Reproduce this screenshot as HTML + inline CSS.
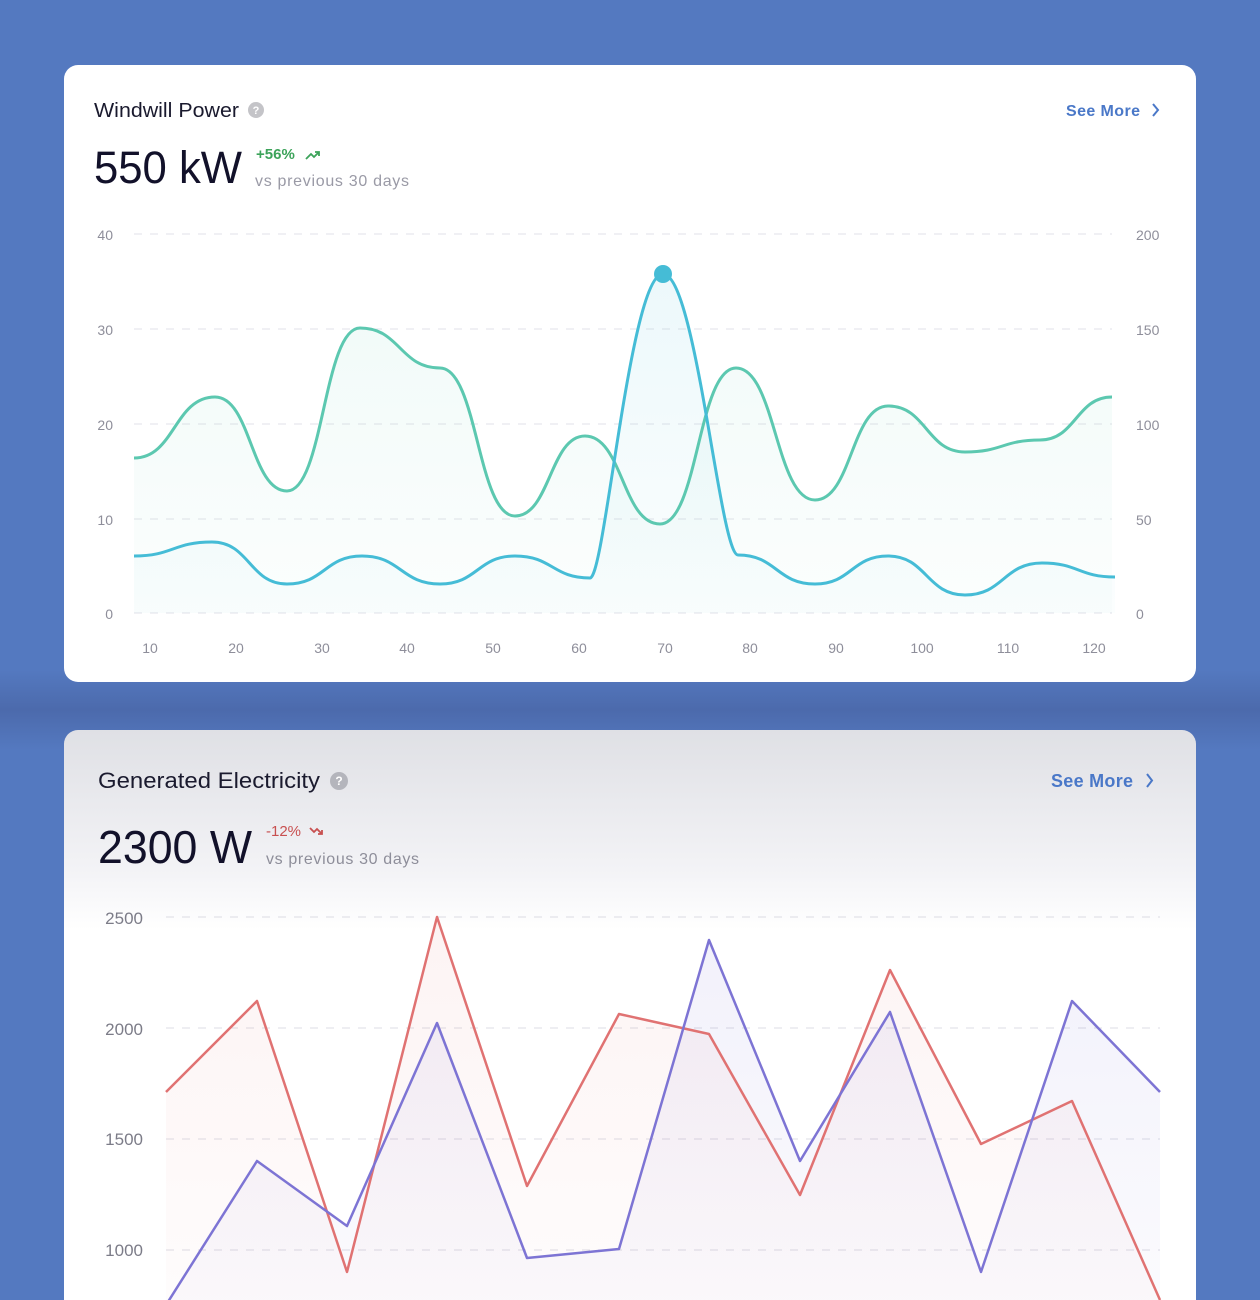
<!DOCTYPE html>
<html style="height:1300px;overflow:hidden"><head><style>
body{margin:0;width:1260px;height:1300px;overflow:hidden;background:#5479c0;font-family:"Liberation Sans",sans-serif;position:relative}
.band{position:absolute;left:0;top:670px;width:1260px;height:80px;background:linear-gradient(#5479c0,#4c6aac 50%,#5479c0)}
.card{position:absolute;left:64px;width:1132px;background:#fff;border-radius:14px;overflow:hidden}
svg text{font-family:"Liberation Sans",sans-serif}
</style></head><body>
<div class="band"></div>
<div class="card" style="top:65px;height:617px"></div>
<div class="card" style="top:730px;height:570px;border-radius:14px 14px 0 0;background:linear-gradient(#dfe0e5,#f3f3f6 140px,#fff 200px)"></div>
<svg width="1260" height="1300" style="position:absolute;left:0;top:0">
<defs>
<linearGradient id="g1" x1="0" y1="0" x2="0" y2="1"><stop offset="0" stop-color="#5cc8b0" stop-opacity=".08"/><stop offset="1" stop-color="#5cc8b0" stop-opacity=".02"/></linearGradient>
<linearGradient id="g2" x1="0" y1="0" x2="0" y2="1"><stop offset="0" stop-color="#45bcd6" stop-opacity=".1"/><stop offset="1" stop-color="#45bcd6" stop-opacity=".02"/></linearGradient>
<linearGradient id="g3" x1="0" y1="0" x2="0" y2="1"><stop offset="0" stop-color="#e07070" stop-opacity=".08"/><stop offset="1" stop-color="#e07070" stop-opacity=".02"/></linearGradient>
<linearGradient id="g4" x1="0" y1="0" x2="0" y2="1"><stop offset="0" stop-color="#7d74d4" stop-opacity=".1"/><stop offset="1" stop-color="#7d74d4" stop-opacity=".03"/></linearGradient>
</defs>
<text x="94" y="117" font-size="20" fill="#1a1a2e" textLength="145" lengthAdjust="spacingAndGlyphs">Windwill Power</text>
<circle cx="256" cy="110" r="8" fill="#c4c4c8"/><text x="256" y="114" font-size="11" fill="#fff" text-anchor="middle" font-weight="bold">?</text>
<text x="1066" y="116" font-size="16" fill="#4a78c8" font-weight="bold" textLength="74">See More</text>
<path d="M1153 104 l5 6 -5 6" stroke="#4a78c8" stroke-width="2" fill="none"/>
<text x="94" y="183" font-size="45" fill="#12112a" textLength="148" lengthAdjust="spacingAndGlyphs">550 kW</text>
<text x="256" y="159" font-size="15" fill="#3ca35a" font-weight="bold">+56%</text>
<path d="M306 159 l5 -5 3 3 5 -5 M315 152 h4 v4" stroke="#3ca35a" stroke-width="1.8" fill="none"/>
<text x="255" y="186" font-size="16" fill="#9a9aa6" textLength="154">vs previous 30 days</text>
<g stroke="#e2e2e8" stroke-dasharray="8 8" stroke-width="1">
<line x1="134" y1="234" x2="1112" y2="234"/><line x1="134" y1="329" x2="1112" y2="329"/><line x1="134" y1="424" x2="1112" y2="424"/><line x1="134" y1="519" x2="1112" y2="519"/><line x1="134" y1="613" x2="1112" y2="613"/>
</g>
<g font-size="14" fill="#8e8e9a">
<text x="113" y="240" text-anchor="end">40</text><text x="113" y="335" text-anchor="end">30</text><text x="113" y="430" text-anchor="end">20</text><text x="113" y="525" text-anchor="end">10</text><text x="113" y="619" text-anchor="end">0</text>
<text x="1136" y="240">200</text><text x="1136" y="335">150</text><text x="1136" y="430">100</text><text x="1136" y="525">50</text><text x="1136" y="619">0</text>
<g text-anchor="middle"><text x="150" y="653">10</text><text x="236" y="653">20</text><text x="322" y="653">30</text><text x="407" y="653">40</text><text x="493" y="653">50</text><text x="579" y="653">60</text><text x="665" y="653">70</text><text x="750" y="653">80</text><text x="836" y="653">90</text><text x="922" y="653">100</text><text x="1008" y="653">110</text><text x="1094" y="653">120</text></g>
</g>
<path d="M134 458 C174.5 458 174.5 397 215 397 C251 397 251 491 287 491 C323.5 491 323.5 328 360 328 C400 328 400 368 440 368 C477.5 368 477.5 516 515 516 C550 516 550 436 585 436 C622.5 436 622.5 524 660 524 C698 524 698 368 736 368 C775.5 368 775.5 500 815 500 C851.5 500 851.5 406 888 406 C926.5 406 926.5 452 965 452 C1002.5 452 1002.5 440 1040 440 C1076 440 1076 397 1112 397 V613 H134Z" fill="url(#g1)"/>
<path d="M134 556 C173 556 173 542 212 542 C249.5 542 249.5 584 287 584 C324.5 584 324.5 556 362 556 C401 556 401 584 440 584 C477.5 584 477.5 556 515 556 C552.5 556 552.5 578 590 578 C605 578 630 274 663 274 C696 274 720 555 738 555 C776.5 555 776.5 584 815 584 C851.5 584 851.5 556 888 556 C926.5 556 926.5 595 965 595 C1003.5 595 1003.5 563 1042 563 C1078.5 563 1078.5 577 1115 577 V613 H134Z" fill="url(#g2)"/>
<path d="M134 458 C174.5 458 174.5 397 215 397 C251 397 251 491 287 491 C323.5 491 323.5 328 360 328 C400 328 400 368 440 368 C477.5 368 477.5 516 515 516 C550 516 550 436 585 436 C622.5 436 622.5 524 660 524 C698 524 698 368 736 368 C775.5 368 775.5 500 815 500 C851.5 500 851.5 406 888 406 C926.5 406 926.5 452 965 452 C1002.5 452 1002.5 440 1040 440 C1076 440 1076 397 1112 397" stroke="#5cc8b0" stroke-width="3" fill="none"/>
<path d="M134 556 C173 556 173 542 212 542 C249.5 542 249.5 584 287 584 C324.5 584 324.5 556 362 556 C401 556 401 584 440 584 C477.5 584 477.5 556 515 556 C552.5 556 552.5 578 590 578 C605 578 630 274 663 274 C696 274 720 555 738 555 C776.5 555 776.5 584 815 584 C851.5 584 851.5 556 888 556 C926.5 556 926.5 595 965 595 C1003.5 595 1003.5 563 1042 563 C1078.5 563 1078.5 577 1115 577" stroke="#45bcd6" stroke-width="3" fill="none"/>
<circle cx="663" cy="274" r="9" fill="#45bcd6"/>
<text x="98" y="788" font-size="22" fill="#1a1a2e" textLength="222" lengthAdjust="spacingAndGlyphs">Generated Electricity</text>
<circle cx="339" cy="781" r="9" fill="#b4b5bc"/><text x="339" y="785" font-size="12" fill="#fff" text-anchor="middle" font-weight="bold">?</text>
<text x="1051" y="787" font-size="18" fill="#4a78c8" font-weight="bold" textLength="82">See More</text>
<path d="M1147 774 l5 6.5 -5 6.5" stroke="#4a78c8" stroke-width="2" fill="none"/>
<text x="98" y="863" font-size="46" fill="#12112a" textLength="154" lengthAdjust="spacingAndGlyphs">2300 W</text>
<text x="266" y="836" font-size="15" fill="#c85050">-12%</text>
<path d="M310 828 l4 4 3 -3 5 5 M322 830 v4 h-4" stroke="#c85050" stroke-width="1.8" fill="none"/>
<text x="266" y="864" font-size="16" fill="#8e8e9a" textLength="153">vs previous 30 days</text>
<g stroke="#dcdce4" stroke-dasharray="8 8"><line x1="166" y1="917" x2="1160" y2="917"/><line x1="166" y1="1028" x2="1160" y2="1028"/><line x1="166" y1="1139" x2="1160" y2="1139"/><line x1="166" y1="1250" x2="1160" y2="1250"/></g>
<g font-size="17" fill="#7c7c88" text-anchor="end"><text x="143" y="924">2500</text><text x="143" y="1035">2000</text><text x="143" y="1145">1500</text><text x="143" y="1256">1000</text></g>
<polygon points="166,1092 257,1001 347,1272 437,917 527,1186 619,1014 709,1034 800,1195 890,970 981,1144 1072,1101 1160,1300 1160,1310 166,1310" fill="url(#g3)"/>
<polygon points="166,1305 257,1161 347,1226 437,1023 527,1258 619,1249 709,940 800,1161 890,1012 981,1272 1072,1001 1160,1092 1160,1310 166,1310" fill="url(#g4)"/>
<polyline points="166,1092 257,1001 347,1272 437,917 527,1186 619,1014 709,1034 800,1195 890,970 981,1144 1072,1101 1160,1300" stroke="#e07272" stroke-width="2.5" fill="none" stroke-linejoin="round"/>
<polyline points="166,1305 257,1161 347,1226 437,1023 527,1258 619,1249 709,940 800,1161 890,1012 981,1272 1072,1001 1160,1092" stroke="#7d74d4" stroke-width="2.5" fill="none" stroke-linejoin="round"/>
</svg>
</body></html>
